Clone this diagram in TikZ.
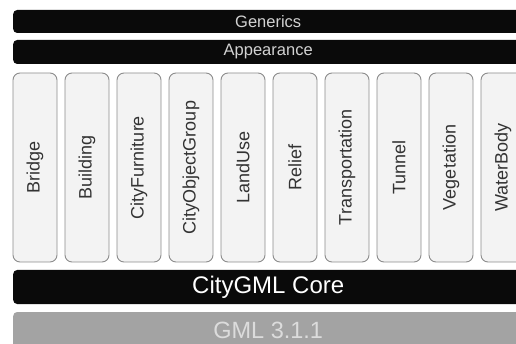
\documentclass[tikz,border=0pt]{standalone}
\usepackage{fontspec}
\setmainfont{Liberation Sans}
\definecolor{barblack}{HTML}{0A0A0A}
\definecolor{bartext}{HTML}{D2D2D2}
\definecolor{modfill}{HTML}{F3F3F3}
\definecolor{modline}{HTML}{8C8C8C}
\definecolor{gmlfill}{HTML}{A3A3A3}
\definecolor{gmltext}{HTML}{DCDCDC}
\begin{document}
\begin{tikzpicture}[x=1pt, y=-1pt,
  bar/.style={rectangle, rounded corners=4pt, fill=barblack, anchor=west, minimum width=510pt, inner sep=0pt},
  modbox/.style={rectangle, rounded corners=7pt, draw=modline, line width=0.9pt, fill=modfill, minimum width=44pt, minimum height=189pt, inner sep=0pt},
  modlabel/.style={rotate=90, text=black!80, font=\fontsize{18}{20}\selectfont}]
\path[use as bounding box, clip] (0,0) rectangle (516,344);
\fill[white] (0,0) rectangle (516,344);
\node[bar, minimum height=23pt, text=bartext, font=\fontsize{16.5}{18}\selectfont] (gen) at (13,21.5){Generics};
\node[bar, minimum height=24pt, text=bartext, font=\fontsize{16.5}{18}\selectfont] (app) at (13,52){Appearance};
\node[modbox] (m0) at (35,167.5){};
\node[modbox] (m1) at (87,167.5){};
\node[modbox] (m2) at (139,167.5){};
\node[modbox] (m3) at (191,167.5){};
\node[modbox] (m4) at (243,167.5){};
\node[modbox] (m5) at (295,167.5){};
\node[modbox] (m6) at (347,167.5){};
\node[modbox] (m7) at (399,167.5){};
\node[modbox] (m8) at (451,167.5){};
\node[modbox] (m9) at (503,167.5){};
\node[modlabel] at (m0){Bridge};
\node[modlabel] at (m1){Building};
\node[modlabel] at (m2){CityFurniture};
\node[modlabel] at (m3){CityObjectGroup};
\node[modlabel] at (m4){LandUse};
\node[modlabel] at (m5){Relief};
\node[modlabel] at (m6){Transportation};
\node[modlabel] at (m7){Tunnel};
\node[modlabel] at (m8){Vegetation};
\node[modlabel] at (m9){WaterBody};
\node[bar, minimum height=34pt, text=white, font=\fontsize{24}{26}\selectfont] (core) at (13,287){CityGML Core};
\node[bar, minimum height=36pt, fill=gmlfill, text=gmltext, font=\fontsize{23.5}{25}\selectfont] (gml) at (13,330){GML 3.1.1};
\end{tikzpicture}
\end{document}
